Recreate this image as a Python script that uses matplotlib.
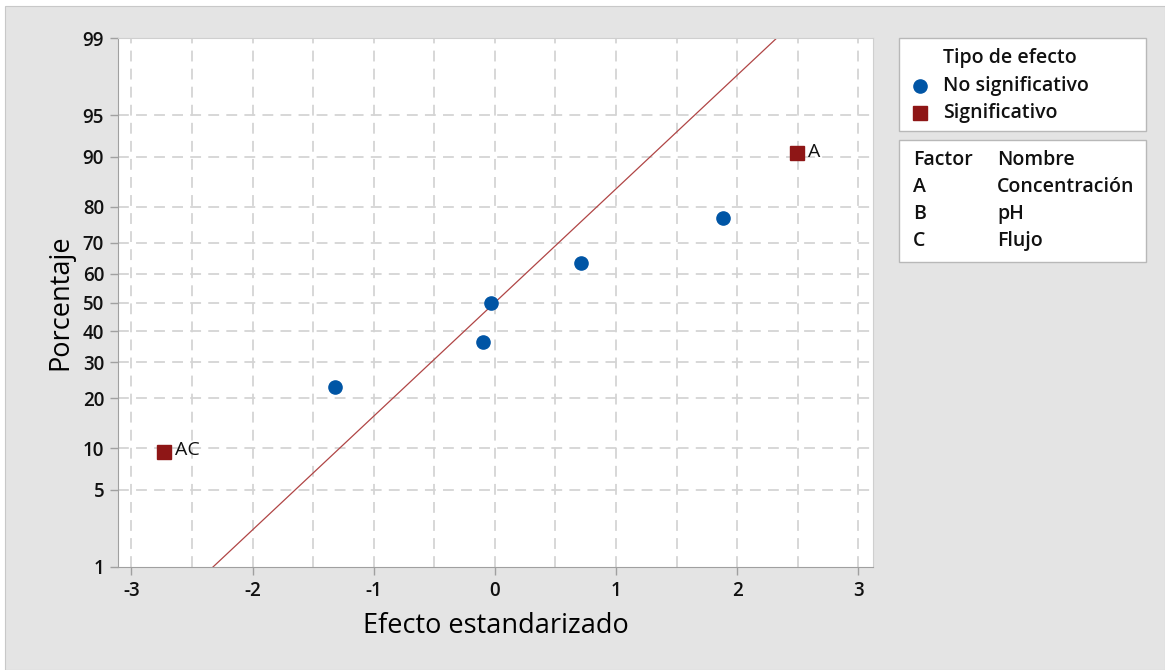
import numpy as np
import matplotlib
matplotlib.use("Agg")
import matplotlib.pyplot as plt
from matplotlib.patches import Rectangle
from matplotlib.lines import Line2D
from statistics import NormalDist

plt.rcParams['font.family'] = ['Open Sans', 'DejaVu Sans']
plt.rcParams['font.weight'] = 'semibold'
plt.rcParams['text.color'] = '#111111'
plt.rcParams['xtick.labelcolor'] = '#111111'
plt.rcParams['ytick.labelcolor'] = '#111111'

# Standardized effects and their normal-probability percentages
effects = ["AC", "", "", "", "", "", "A"]
std_effect = [-2.73, -1.32, -0.10, -0.03, 0.71, 1.88, 2.49]
percent = [9.5, 23.0, 36.5, 50.0, 63.5, 77.0, 90.5]
significant = [True, False, False, False, False, False, True]

y_ticks = [1, 5, 10, 20, 30, 40, 50, 60, 70, 80, 90, 95, 99]
x_ticks = [-3, -2, -1, 0, 1, 2, 3]

factor_codes = ["A", "B", "C"]
factor_names = ["Concentración", "pH", "Flujo"]

_nd = NormalDist()
_ppf = np.vectorize(lambda v: _nd.inv_cdf(v / 100.0), otypes=[float])
_cdf = np.vectorize(lambda v: _nd.cdf(v) * 100.0, otypes=[float])


def fwd(p):
    p = np.clip(np.asarray(p, dtype=float), 1e-6, 100 - 1e-6)
    return _ppf(p)


def inv(z):
    return _cdf(np.asarray(z, dtype=float))


BLUE = "#0055a5"
RED = "#8e1616"
LINE = "#b04545"
GRID = "#d4d4d4"
BG = "#e4e4e4"
FS_TICK = 13.5
FS_LEG = 14
FS_LAB = 19.5

fig = plt.figure(figsize=(11.65, 6.70), dpi=100)
fig.patch.set_facecolor("white")
W, H = 1165, 670
# gray panel with a thin border
fig.patches.append(Rectangle((5 / W, 0), 1 - 5 / W, 1 - 6 / H, transform=fig.transFigure,
                             facecolor=BG, edgecolor="#c8c8c8", lw=0.8, zorder=-10))

ax = fig.add_axes([118 / W, 1 - 567 / H, (873 - 118) / W, (567 - 38) / H])
ax.set_yscale("function", functions=(fwd, inv))
ax.set_ylim(1, 99)
ax.set_xlim(-3.11, 3.12)
ax.set_facecolor("white")

ax.set_yticks(y_ticks)
ax.set_yticklabels([str(t) for t in y_ticks])
ax.set_xticks(x_ticks)
ax.set_xticklabels([str(t) for t in x_ticks])
ax.yaxis.set_minor_locator(matplotlib.ticker.NullLocator())
ax.tick_params(axis="both", labelsize=FS_TICK, length=6, color="#a0a0a0", width=1, pad=4)

# dashed grid
for xv in np.arange(-3, 3.01, 0.5):
    ax.axvline(xv, color=GRID, ls=(0, (6, 4)), lw=1.3, zorder=0)
for yv in y_ticks[1:-1]:
    ax.axhline(yv, color=GRID, ls=(0, (6, 4)), lw=1.3, zorder=0)

for s in ["left", "bottom"]:
    ax.spines[s].set_color("#a0a0a0")
for s in ["right", "top"]:
    ax.spines[s].set_color("#cfcfcf")

# reference line of the normal distribution
zline = np.linspace(fwd(1.0), fwd(99.0), 200)
ax.plot(zline, inv(zline), color=LINE, lw=0.9, zorder=2)

for xe, pe, sig, lab in zip(std_effect, percent, significant, effects):
    if sig:
        ax.plot(xe, pe, marker="s", ms=10, color=RED, ls="none", zorder=3)
    else:
        ax.plot(xe, pe, marker="o", ms=9.5, color=BLUE, ls="none", zorder=3)
    if lab:
        ax.annotate(lab, (xe, pe), xytext=(8, 1), textcoords="offset points",
                    fontsize=14, va="center", ha="left", fontweight="normal")

ax.set_xlabel("Efecto estandarizado", fontsize=FS_LAB, labelpad=8)
ax.set_ylabel("Porcentaje", fontsize=FS_LAB, labelpad=6)


def fx(px):
    return px / W


def fy(py):
    return 1 - py / H


# legend box: effect type
fig.patches.append(Rectangle((fx(899), fy(131)), (1146 - 899) / W, (131 - 38) / H,
                             transform=fig.transFigure, facecolor="white",
                             edgecolor="#b8b8b8", lw=1))
fig.text(fx(943), fy(58), "Tipo de efecto", fontsize=FS_LEG, va="center", ha="left")
fig.lines.append(Line2D([fx(920)], [fy(86)], marker="o", ms=9.5, color=BLUE,
                        transform=fig.transFigure))
fig.text(fx(943), fy(86), "No significativo", fontsize=FS_LEG, va="center", ha="left")
fig.lines.append(Line2D([fx(920)], [fy(113)], marker="s", ms=9.5, color=RED,
                        transform=fig.transFigure))
fig.text(fx(943), fy(113), "Significativo", fontsize=FS_LEG, va="center", ha="left")

# legend box: factor names
fig.patches.append(Rectangle((fx(899), fy(262)), (1146 - 899) / W, (262 - 140) / H,
                             transform=fig.transFigure, facecolor="white",
                             edgecolor="#b8b8b8", lw=1))
fig.text(fx(913), fy(160), "Factor", fontsize=FS_LEG, va="center", ha="left")
fig.text(fx(997), fy(160), "Nombre", fontsize=FS_LEG, va="center", ha="left")
for i, (code, name) in enumerate(zip(factor_codes, factor_names)):
    yy = 187 + 27 * i
    fig.text(fx(913), fy(yy), code, fontsize=FS_LEG, va="center", ha="left")
    fig.text(fx(997), fy(yy), name, fontsize=FS_LEG, va="center", ha="left")

fig.savefig("out.png", dpi=100, facecolor=fig.get_facecolor())
